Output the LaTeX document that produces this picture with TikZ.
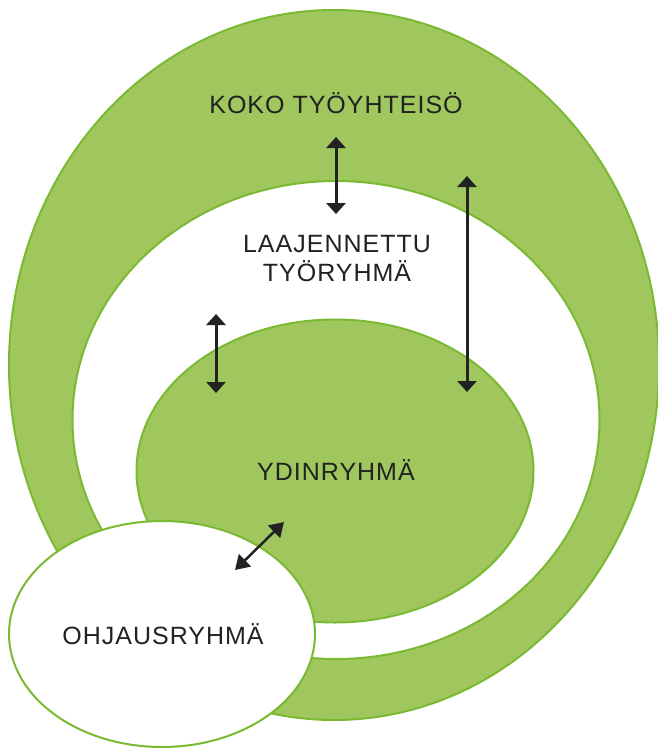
\documentclass[tikz,border=0pt]{standalone}
\usepackage{fontspec}
\setmainfont{Liberation Sans}[LetterSpace=4]
\usetikzlibrary{arrows.meta,shapes.geometric}
\definecolor{gfill}{HTML}{A0C75E}
\definecolor{glight}{HTML}{B8D78E}
\definecolor{gline}{HTML}{7AB932}
\definecolor{txt}{HTML}{222222}
\pgfdeclareradialshading{greenglow}{\pgfpoint{0bp}{0bp}}{color(0bp)=(gfill); color(40bp)=(gfill); color(50bp)=(glight)}
\pgfdeclareradialshading{whiteglow}{\pgfpoint{0bp}{0bp}}{color(0bp)=(white); color(35bp)=(white); color(50bp)=(gfill!60!white)}
\tikzset{
  greenell/.style={ellipse, inner sep=0pt, draw=gline, line width=2pt, shading=greenglow},
  whiteell/.style={ellipse, inner sep=0pt, draw=gline, line width=2pt, shading=whiteglow},
  lbl/.style={text=txt, font=\fontsize{25}{29}\selectfont, align=center},
  dblarrow/.style={{Triangle[width=19pt,length=11pt]}-{Triangle[width=19pt,length=11pt]}, line width=3pt, draw=txt},
  dblarrowsmall/.style={{Triangle[width=17pt,length=14pt]}-{Triangle[width=17pt,length=14pt]}, line width=2.5pt, draw=txt}
}
\begin{document}
\begin{tikzpicture}[x=1pt,y=-1pt]
\useasboundingbox (0,0) rectangle (658,748);
\node[greenell, minimum width=650pt, minimum height=710pt] (outer) at (334,365) {};
\node[whiteell, minimum width=527pt, minimum height=478pt] (mid) at (336,420) {};
\node[greenell, minimum width=397pt, minimum height=303pt] (core) at (335,471) {};
\node[whiteell, minimum width=306pt, minimum height=226pt] (ohj) at (162,634) {};

\node[lbl] (t1) at (336,103) {KOKO TYÖYHTEISÖ};
\node[lbl] (t2) at (337,259) {LAAJENNETTU\\TYÖRYHMÄ};
\node[lbl] (t3) at (336,470) {YDINRYHMÄ};
\node[lbl] (t4) at (163,634) {OHJAUSRYHMÄ};

\coordinate (a1s) at (336,137);
\coordinate (a1e) at (336,214);
\coordinate (a2s) at (467,176);
\coordinate (a2e) at (467,392);
\coordinate (a3s) at (216,314);
\coordinate (a3e) at (216,393);
\coordinate (a4s) at (235,570);
\coordinate (a4e) at (284,522);
\draw[dblarrow] (a1s) -- (a1e);
\draw[dblarrow] (a2s) -- (a2e);
\draw[dblarrow] (a3s) -- (a3e);
\draw[dblarrowsmall] (a4s) -- (a4e);
\end{tikzpicture}
\end{document}
